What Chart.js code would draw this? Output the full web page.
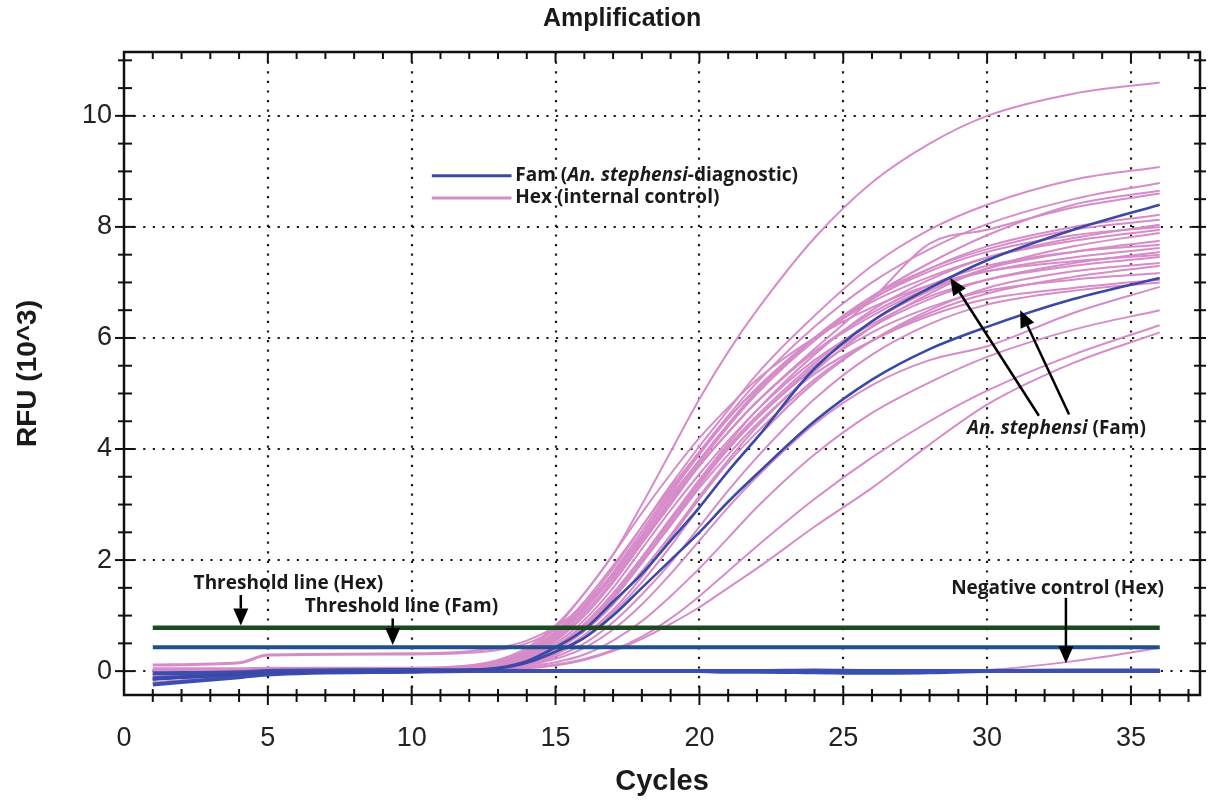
<!doctype html>
<html>
<head>
  <meta charset="utf-8" />
  <title>Amplification</title>
  <script src="https://cdn.jsdelivr.net/npm/chart.js@4.4.1/dist/chart.umd.min.js"></script>
  <style>
    html, body { margin:0; padding:0; background:#fff; }
  </style>
</head>

<body>
<canvas id="ampChart" width="1211" height="800"></canvas>

<script>
const cycles = [1, 4, 5, 10, 12, 13, 14, 15, 16, 17, 18, 19, 20, 21, 22, 24, 26, 28, 30, 33, 36];

// Hex (internal control) curves, RFU x 10^3
const hexCurves = [
  [0.05, 0.05, 0.06, 0.06, 0.10, 0.18, 0.38, 0.78, 1.40, 2.10, 3.00, 3.95, 4.90, 5.75, 6.50, 7.80, 8.80, 9.50, 10.0, 10.4, 10.6],
  [0.02, 0.02, 0.03, 0.04, 0.08, 0.16, 0.34, 0.68, 1.20, 1.85, 2.60, 3.35, 4.05, 4.70, 5.35, 6.40, 7.30, 7.95, 8.40, 8.85, 9.08],
  [-0.05, 0.00, 0.01, 0.02, 0.06, 0.14, 0.30, 0.62, 1.12, 1.78, 2.52, 3.25, 3.95, 4.60, 5.20, 6.20, 7.00, 7.60, 8.05, 8.50, 8.79],
  [0.00, 0.01, 0.02, 0.03, 0.07, 0.15, 0.32, 0.66, 1.15, 1.75, 2.45, 3.15, 3.80, 4.45, 5.00, 6.00, 6.75, 7.35, 7.85, 8.40, 8.65],
  [-0.02, 0.00, 0.00, 0.02, 0.05, 0.12, 0.26, 0.55, 1.00, 1.60, 2.30, 3.05, 3.75, 4.40, 5.00, 5.95, 6.70, 7.25, 7.65, 8.00, 8.22],
  [0.12, 0.16, 0.30, 0.32, 0.36, 0.42, 0.55, 0.80, 1.20, 1.75, 2.40, 3.10, 3.80, 4.45, 5.05, 6.00, 6.75, 7.25, 7.60, 7.95, 8.13],
  [-0.08, -0.03, 0.00, 0.02, 0.04, 0.10, 0.22, 0.45, 0.85, 1.40, 2.05, 2.75, 3.45, 4.10, 4.70, 5.70, 6.50, 7.05, 7.45, 7.80, 8.04],
  [0.02, 0.02, 0.03, 0.04, 0.07, 0.16, 0.36, 0.72, 1.25, 1.90, 2.60, 3.30, 3.95, 4.55, 5.10, 6.00, 6.65, 7.10, 7.45, 7.75, 7.95],
  [-0.10, -0.04, -0.02, 0.00, 0.03, 0.08, 0.18, 0.38, 0.72, 1.20, 1.80, 2.45, 3.15, 3.80, 4.40, 5.40, 6.20, 6.80, 7.25, 7.65, 7.89],
  [0.10, 0.14, 0.28, 0.30, 0.33, 0.38, 0.50, 0.75, 1.15, 1.70, 2.35, 3.05, 3.70, 4.30, 4.85, 5.75, 6.45, 6.95, 7.30, 7.55, 7.68],
  [0.00, 0.01, 0.01, 0.02, 0.05, 0.12, 0.28, 0.58, 1.05, 1.65, 2.35, 3.05, 3.70, 4.30, 4.85, 5.75, 6.40, 6.90, 7.20, 7.45, 7.62],
  [-0.05, -0.02, 0.00, 0.01, 0.03, 0.08, 0.18, 0.40, 0.78, 1.30, 1.95, 2.65, 3.35, 4.00, 4.55, 5.50, 6.20, 6.70, 7.05, 7.35, 7.55],
  [0.03, 0.03, 0.03, 0.04, 0.06, 0.12, 0.25, 0.50, 0.92, 1.50, 2.20, 2.90, 3.55, 4.15, 4.70, 5.60, 6.25, 6.75, 7.05, 7.30, 7.46],
  [-0.12, -0.05, -0.02, 0.00, 0.02, 0.06, 0.14, 0.30, 0.60, 1.05, 1.60, 2.25, 2.95, 3.60, 4.20, 5.20, 5.95, 6.50, 6.90, 7.20, 7.35],
  [0.00, 0.00, 0.01, 0.02, 0.04, 0.10, 0.22, 0.46, 0.85, 1.40, 2.05, 2.75, 3.40, 4.00, 4.55, 5.45, 6.10, 6.55, 6.85, 7.05, 7.17],
  [-0.20, -0.08, -0.04, -0.02, 0.01, 0.05, 0.12, 0.26, 0.50, 0.88, 1.38, 1.95, 2.60, 3.25, 3.85, 4.90, 5.70, 6.25, 6.60, 6.85, 7.00],
  [0.00, 0.00, 0.00, 0.01, 0.02, 0.05, 0.10, 0.22, 0.42, 0.75, 1.20, 1.75, 2.35, 2.95, 3.50, 4.45, 5.15, 5.60, 5.85, 6.45, 6.92],
  [0.00, 0.00, 0.00, 0.01, 0.02, 0.04, 0.08, 0.16, 0.30, 0.55, 0.90, 1.35, 1.85, 2.40, 2.95, 3.90, 4.65, 5.20, 5.66, 6.15, 6.50],
  [0.00, 0.00, 0.00, 0.00, 0.01, 0.03, 0.06, 0.12, 0.22, 0.38, 0.62, 0.95, 1.35, 1.80, 2.25, 3.10, 3.85, 4.50, 5.05, 5.70, 6.23],
  [0.00, 0.00, 0.00, 0.00, 0.00, 0.02, 0.05, 0.10, 0.20, 0.36, 0.58, 0.85, 1.15, 1.50, 1.85, 2.60, 3.30, 4.08, 4.80, 5.55, 6.10],
  [0.00, 0.00, 0.01, 0.02, 0.05, 0.12, 0.26, 0.55, 1.00, 1.60, 2.30, 3.00, 3.70, 4.30, 4.85, 5.80, 6.70, 7.70, 7.95, 8.35, 8.60],
  [0.02, 0.02, 0.02, 0.03, 0.05, 0.10, 0.20, 0.42, 0.80, 1.35, 2.00, 2.70, 3.40, 4.05, 4.60, 5.55, 6.30, 6.85, 7.25, 7.55, 7.75],
  [-0.06, -0.02, -0.01, 0.00, 0.02, 0.06, 0.15, 0.33, 0.65, 1.10, 1.70, 2.40, 3.10, 3.75, 4.30, 5.25, 5.95, 6.45, 6.80, 7.10, 7.30],
  [0.00, 0.00, 0.01, 0.02, 0.06, 0.14, 0.30, 0.62, 1.10, 1.72, 2.45, 3.20, 3.90, 4.55, 5.10, 6.00, 6.70, 7.20, 7.55, 7.85, 8.00],
  [0.01, 0.01, 0.01, 0.02, 0.04, 0.09, 0.20, 0.42, 0.80, 1.32, 1.95, 2.62, 3.30, 3.90, 4.45, 5.35, 5.95, 6.40, 6.70, 6.90, 7.05],
  [0.03, 0.03, 0.04, 0.05, 0.10, 0.20, 0.42, 0.82, 1.40, 2.10, 2.85, 3.55, 4.20, 4.75, 5.25, 6.00, 6.55, 6.95, 7.20, 7.38, 7.50]
];
const hexNegative = [0, 0, 0, 0, 0, 0, 0, 0, 0, 0, 0, 0, 0, 0, 0, 0, 0, 0, 0.02, 0.18, 0.42];

// Fam (An. stephensi-diagnostic) curves
const famPositive = [
  [-0.15, -0.05, -0.03, 0.00, 0.02, 0.06, 0.18, 0.43, 0.75, 1.25, 1.75, 2.35, 2.95, 3.60, 4.20, 5.45, 6.30, 6.90, 7.40, 7.95, 8.40],
  [-0.15, -0.05, -0.03, 0.00, 0.02, 0.05, 0.15, 0.35, 0.60, 1.00, 1.50, 2.00, 2.50, 3.05, 3.55, 4.50, 5.25, 5.80, 6.20, 6.70, 7.08]
];
const famNegative = [
  [-0.24, -0.11, -0.06, -0.01, 0.00, 0.00, 0.00, 0.00, 0.00, 0.00, 0.00, 0.00, 0.00, -0.01, -0.01, -0.02, -0.03, -0.02, 0.00, 0.00, 0.00],
  [-0.13, -0.06, -0.03, 0.01, 0.01, 0.01, 0.00, 0.00, 0.00, 0.00, 0.00, 0.00, 0.00, 0.00, 0.00, 0.00, 0.00, 0.00, 0.00, 0.00, 0.00],
  [-0.04, -0.02, 0.00, 0.02, 0.01, 0.00, 0.00, 0.00, 0.00, 0.00, 0.00, 0.00, 0.00, 0.00, 0.00, 0.01, 0.00, 0.00, 0.00, 0.01, 0.01]
];

const hexThreshold = 0.78;
const famThreshold = 0.43;
const thresholdSpan = [1, 36];

const xTicks = [0, 5, 10, 15, 20, 25, 30, 35];
const yTicks = [0, 2, 4, 6, 8, 10];

const PINK = 'rgb(214,140,200)';
const FAM = '#3b49a6';

const legendItems = [
  {color: FAM, parts: [{t: 'Fam ('}, {t: 'An. stephensi', i: true}, {t: '-diagnostic)'}]},
  {color: PINK, parts: [{t: 'Hex (internal control)'}]}
];
// label positions are in data units (cycle, RFU)
const legendPos = {x0: 10.7, x1: 13.47, textX: 13.6, y: [8.92, 8.52]};
const notes = [
  {x: 2.42, y: 1.57, parts: [{t: 'Threshold line (Hex)'}]},
  {x: 6.28, y: 1.17, parts: [{t: 'Threshold line (Fam)'}]},
  {x: 28.75, y: 1.48, parts: [{t: 'Negative control (Hex)'}]},
  {x: 29.3, y: 4.36, parts: [{t: 'An. stephensi', i: true}, {t: ' (Fam)'}]}
];
const arrows = [
  [[4.06, 1.37], [4.06, 0.82]],
  [[9.34, 0.95], [9.34, 0.47]],
  [[32.74, 1.32], [32.74, 0.14]],
  [[31.8, 4.6], [28.72, 7.08]],
  [[32.85, 4.62], [31.15, 6.5]]
];

const pts = vals => cycles.map((c, i) => ({x: c, y: vals[i]}));
const flat = v => thresholdSpan.map(c => ({x: c, y: v}));

const datasets = [];
datasets.push({data: flat(hexThreshold), borderColor: '#1c4a20', borderWidth: 4.5});
datasets.push({data: flat(famThreshold), borderColor: '#1f4f8e', borderWidth: 4});
famPositive.forEach(v => datasets.push({data: pts(v), borderColor: FAM, borderWidth: 2.6}));
famNegative.forEach(v => datasets.push({data: pts(v), borderColor: '#3a4fb0', borderWidth: 4}));
datasets.push({data: pts(hexNegative), borderColor: PINK, borderWidth: 2});
hexCurves.forEach(v => datasets.push({data: pts(v), borderColor: PINK, borderWidth: 2}));
datasets.forEach(d => { d.pointRadius = 0; d.cubicInterpolationMode = 'monotone'; d.fill = false; });

function seg(ctx, x1, y1, x2, y2) {
  ctx.beginPath(); ctx.moveTo(x1, y1); ctx.lineTo(x2, y2); ctx.stroke();
}

function richText(ctx, parts, x, y, size) {
  let cx = x;
  parts.forEach(p => {
    ctx.font = (p.i ? 'italic ' : '') + 'bold ' + size + 'px "Open Sans"';
    ctx.fillText(p.t, cx, y);
    cx += ctx.measureText(p.t).width;
  });
}

const frameBox = {
  id: 'frameBox',
  beforeDatasetsDraw(chart) {
    const {ctx, chartArea: a, scales: {x, y}} = chart;
    ctx.save();
    ctx.strokeStyle = '#1a1a1a';
    ctx.lineWidth = 2.2;
    ctx.setLineDash([2.2, 7.4]);
    xTicks.filter(v => v > 0).forEach(v => {
      const px = Math.round(x.getPixelForValue(v));
      seg(ctx, px, a.top, px, a.bottom);
    });
    yTicks.forEach(v => {
      const py = Math.round(y.getPixelForValue(v));
      seg(ctx, a.left, py, a.right, py);
    });
    ctx.restore();
  },
  afterDatasetsDraw(chart) {
    const {ctx, chartArea: a, scales: {x, y}} = chart;
    ctx.save();
    ctx.strokeStyle = '#111';
    ctx.lineWidth = 2.5;
    ctx.strokeRect(a.left, a.top, a.right - a.left, a.bottom - a.top);
    ctx.lineWidth = 2;
    for (let c = 1; c <= Math.floor(x.max); c++) {
      const px = x.getPixelForValue(c);
      const big = c % 5 === 0;
      seg(ctx, px, a.bottom - (big ? 9 : 6), px, a.bottom + (big ? 10 : 7));
      seg(ctx, px, a.top, px, a.top + (big ? 10 : 7));
    }
    for (let v = 0; v <= y.max; v += 0.5) {
      const py = y.getPixelForValue(v);
      const big = v % 2 === 0;
      seg(ctx, a.left - (big ? 9 : 6), py, a.left + (big ? 11 : 8), py);
      seg(ctx, a.right - (big ? 8 : 6), py, a.right + 6, py);
    }
    ctx.restore();
  },
  afterDraw(chart) {
    const {ctx, chartArea: a, scales: {x, y}} = chart;
    ctx.save();
    // title
    ctx.fillStyle = '#1a1a1a';
    ctx.font = 'bold 25px "Liberation Sans"';
    ctx.textAlign = 'center';
    ctx.textBaseline = 'middle';
    ctx.fillText('Amplification', a.left + (a.right - a.left) * 0.463, 19);
    ctx.textAlign = 'left';
    // legend
    legendItems.forEach((it, i) => {
      const py = y.getPixelForValue(legendPos.y[i]);
      ctx.strokeStyle = it.color;
      ctx.lineWidth = 3;
      seg(ctx, x.getPixelForValue(legendPos.x0), py, x.getPixelForValue(legendPos.x1), py);
      ctx.fillStyle = '#1a1a1a';
      richText(ctx, it.parts, x.getPixelForValue(legendPos.textX), py, 19);
    });
    // notes
    notes.forEach(n => richText(ctx, n.parts, x.getPixelForValue(n.x), y.getPixelForValue(n.y), 19));
    // arrows
    ctx.strokeStyle = '#000';
    ctx.fillStyle = '#000';
    ctx.lineWidth = 2.5;
    arrows.forEach(([f, t]) => {
      const x1 = x.getPixelForValue(f[0]), y1 = y.getPixelForValue(f[1]);
      const x2 = x.getPixelForValue(t[0]), y2 = y.getPixelForValue(t[1]);
      const ang = Math.atan2(y2 - y1, x2 - x1);
      const hl = 17, hw = 7.5;
      const bx = x2 - hl * Math.cos(ang), by = y2 - hl * Math.sin(ang);
      seg(ctx, x1, y1, bx, by);
      ctx.beginPath();
      ctx.moveTo(x2, y2);
      ctx.lineTo(bx + hw * Math.sin(ang), by - hw * Math.cos(ang));
      ctx.lineTo(bx - hw * Math.sin(ang), by + hw * Math.cos(ang));
      ctx.closePath();
      ctx.fill();
    });
    ctx.restore();
  }
};

new Chart(document.getElementById('ampChart'), {
  type: 'line',
  data: {datasets: datasets},
  options: {
    responsive: false,
    animation: false,
    events: [],
    layout: {padding: {top: 52, right: 11, left: 0, bottom: 0}},
    plugins: {legend: {display: false}, tooltip: {enabled: false}, title: {display: false}},
    scales: {
      x: {
        type: 'linear', min: 0, max: 37.4,
        afterBuildTicks: s => { s.ticks = xTicks.map(v => ({value: v})); },
        afterFit: s => { s.height = 105; },
        grid: {display: false, drawTicks: false},
        border: {display: false},
        ticks: {font: {family: 'Liberation Sans', size: 27}, color: '#222', padding: 27, maxRotation: 0},
        title: {display: true, text: 'Cycles', color: '#1a1a1a',
                font: {family: 'Liberation Sans', size: 29, weight: 'bold'}, padding: {top: 0, bottom: 1}}
      },
      y: {
        type: 'linear', min: -0.43, max: 11.15,
        afterBuildTicks: s => { s.ticks = yTicks.map(v => ({value: v})); },
        afterFit: s => { s.width = 124; },
        grid: {display: false, drawTicks: false},
        border: {display: false},
        ticks: {font: {family: 'Liberation Sans', size: 27}, color: '#222', padding: 12},
        title: {display: true, text: 'RFU (10^3)', color: '#1a1a1a',
                font: {family: 'Liberation Sans', size: 28, weight: 'bold'}, padding: {top: 11, bottom: 0}}
      }
    }
  },
  plugins: [frameBox]
});
</script>
</body>
</html>
